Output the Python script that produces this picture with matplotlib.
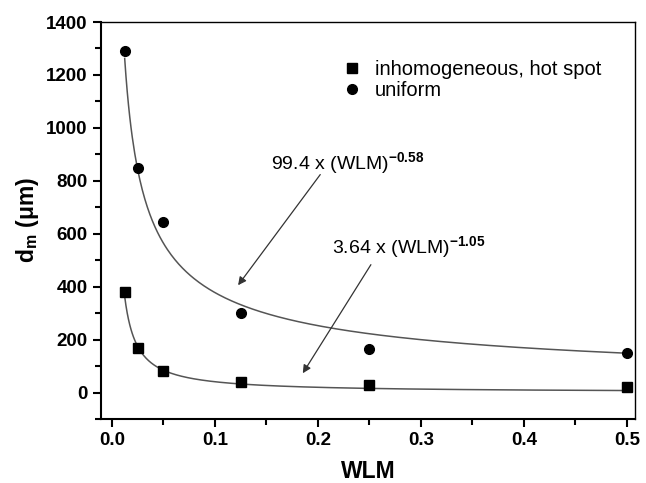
import numpy as np
import matplotlib
matplotlib.use("Agg")
import matplotlib.pyplot as plt
from matplotlib.ticker import MultipleLocator

plt.rcParams["font.family"] = ["Liberation Sans", "DejaVu Sans"]
plt.rcParams["mathtext.fontset"] = "custom"
plt.rcParams["mathtext.rm"] = "Liberation Sans"
plt.rcParams["mathtext.bf"] = "Liberation Sans:bold"
plt.rcParams["mathtext.it"] = "Liberation Sans:italic"

wlm = [0.0125, 0.025, 0.05, 0.125, 0.25, 0.5]
hot_spot = [380, 170, 80, 38, 30, 20]
uniform = [1290, 850, 645, 300, 165, 148]

# fit parameters from the annotations: a * WLM^b
fit_uniform = (99.4, -0.58)
fit_hot = (3.64, -1.05)

fig = plt.figure(figsize=(6.46, 4.83), dpi=100)
ax = fig.add_axes([101 / 646, 1 - 419 / 483, 534 / 646, 397 / 483])

xs = np.linspace(wlm[0], wlm[-1], 400)
ax.plot(xs, fit_uniform[0] * xs ** fit_uniform[1], color="#555555", lw=1.1)
ax.plot(xs, fit_hot[0] * xs ** fit_hot[1], color="#555555", lw=1.1)

ax.plot(wlm, hot_spot, "s", color="black", ms=7, label="inhomogeneous, hot spot")
ax.plot(wlm, uniform, "o", color="black", ms=7, label="uniform")

ax.set_xlim(-0.0105, 0.508)
ax.set_ylim(-100, 1400)
ax.xaxis.set_major_locator(MultipleLocator(0.1))
ax.xaxis.set_minor_locator(MultipleLocator(0.05))
ax.yaxis.set_major_locator(MultipleLocator(200))
ax.yaxis.set_minor_locator(MultipleLocator(100))
ax.tick_params(which="both", direction="out", top=False, right=False, width=1.5)
ax.tick_params(which="major", length=6, labelsize=13.5)
ax.tick_params(which="minor", length=4)
for lab in ax.get_xticklabels() + ax.get_yticklabels():
    lab.set_fontweight("bold")
for sp in ax.spines.values():
    sp.set_linewidth(1.5)
ax.spines["top"].set_linewidth(1.0)
ax.spines["right"].set_linewidth(1.0)
ax.xaxis.set_major_formatter(plt.FuncFormatter(lambda v, p: f"{v:.1f}"))

ax.set_xlabel("WLM", fontsize=16.5, fontweight="bold", labelpad=8)
ax.set_ylabel(r"d$_\mathbf{m}$ ($\mathbf{\mu}$m)", fontsize=16.5, fontweight="bold", labelpad=4)

ax.legend(loc="upper left", bbox_to_anchor=(0.418, 0.95), frameon=False,
          fontsize=14.5, handletextpad=0.6, labelspacing=0.1, handlelength=1.0)

ax.annotate("", xy=(0.121, 397), xytext=(0.204, 832),
            arrowprops=dict(arrowstyle="-|>", color="#333333", lw=0.9, mutation_scale=12))
ax.annotate("", xy=(0.184, 64), xytext=(0.253, 492),
            arrowprops=dict(arrowstyle="-|>", color="#333333", lw=0.9, mutation_scale=12))
ax.text(0.155, 845, r"99.4 x (WLM)$^{\mathbf{-0.58}}$", fontsize=14)
ax.text(0.214, 525, r"3.64 x (WLM)$^{\mathbf{-1.05}}$", fontsize=14)

fig.savefig("out.png", dpi=100)
